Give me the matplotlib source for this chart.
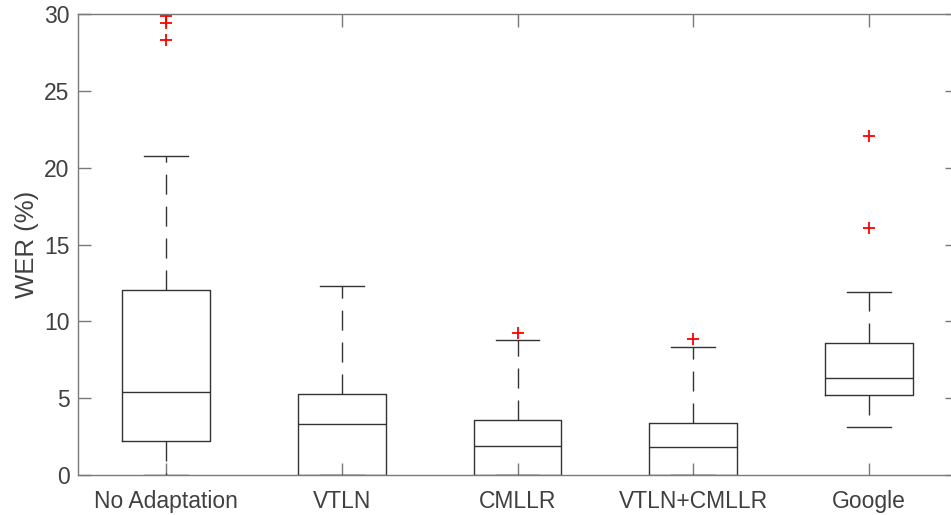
import matplotlib
matplotlib.use('Agg')
import matplotlib.pyplot as plt

# box statistics (WER %)
LABELS = ['No Adaptation', 'VTLN', 'CMLLR', 'VTLN+CMLLR', 'Google']
Q1 = [2.2, 0.0, 0.0, 0.0, 5.2]
MEDIAN = [5.4, 3.3, 1.9, 1.8, 6.3]
Q3 = [12.05, 5.27, 3.56, 3.36, 8.57]
WHISKER_LOW = [0.0, 0.0, 0.0, 0.0, 3.1]
WHISKER_HIGH = [20.75, 12.3, 8.8, 8.3, 11.9]
OUTLIERS = [[28.3, 29.4, 29.85], [], [9.22], [8.83], [16.1, 22.05]]

TEXT_COLOR = '#404040'
LINE_COLOR = '#333333'
AXIS_COLOR = '#7a7a7a'
FONT_SIZE = 16.5

plt.rcParams['font.family'] = ['Liberation Sans', 'DejaVu Sans']


def main():
    stats = []
    for i, label in enumerate(LABELS):
        stats.append({'label': label,
                      'q1': Q1[i], 'med': MEDIAN[i], 'q3': Q3[i],
                      'whislo': WHISKER_LOW[i], 'whishi': WHISKER_HIGH[i],
                      'fliers': OUTLIERS[i]})

    fig = plt.figure(figsize=(9.51, 5.15), dpi=100)
    ax = fig.add_axes([78 / 951, 40 / 515, (957 - 78) / 951, (475 - 14) / 515])

    ax.bxp(stats, positions=range(1, 6), widths=0.5,
           boxprops=dict(color=LINE_COLOR, linewidth=1.0),
           medianprops=dict(color=LINE_COLOR, linewidth=1.0),
           whiskerprops=dict(color=LINE_COLOR, linewidth=1.0, linestyle=(0, (14.4, 8.6))),
           capprops=dict(color=LINE_COLOR, linewidth=1.0),
           capwidths=0.25,
           flierprops=dict(marker='+', markeredgecolor='#ff0000', markersize=9,
                           markeredgewidth=1.3, linestyle='none'))

    ax.set_xlim(0.5, 5.5)
    ax.set_ylim(0, 30)
    ax.set_yticks([0, 5, 10, 15, 20, 25, 30])
    ax.set_ylabel('WER (%)', fontsize=18.5, color=TEXT_COLOR, labelpad=3.5)

    for side in ['left', 'right', 'top', 'bottom']:
        ax.spines[side].set_color(AXIS_COLOR)
        ax.spines[side].set_linewidth(1.0)
    ax.tick_params(axis='both', direction='in', length=9, width=1.0,
                   color=AXIS_COLOR, labelcolor=TEXT_COLOR, labelsize=FONT_SIZE,
                   top=True, right=True)
    ax.tick_params(axis='x', pad=11)
    ax.tick_params(axis='y', pad=6)

    fig.savefig('out.png', dpi=100)


if __name__ == '__main__':
    main()
